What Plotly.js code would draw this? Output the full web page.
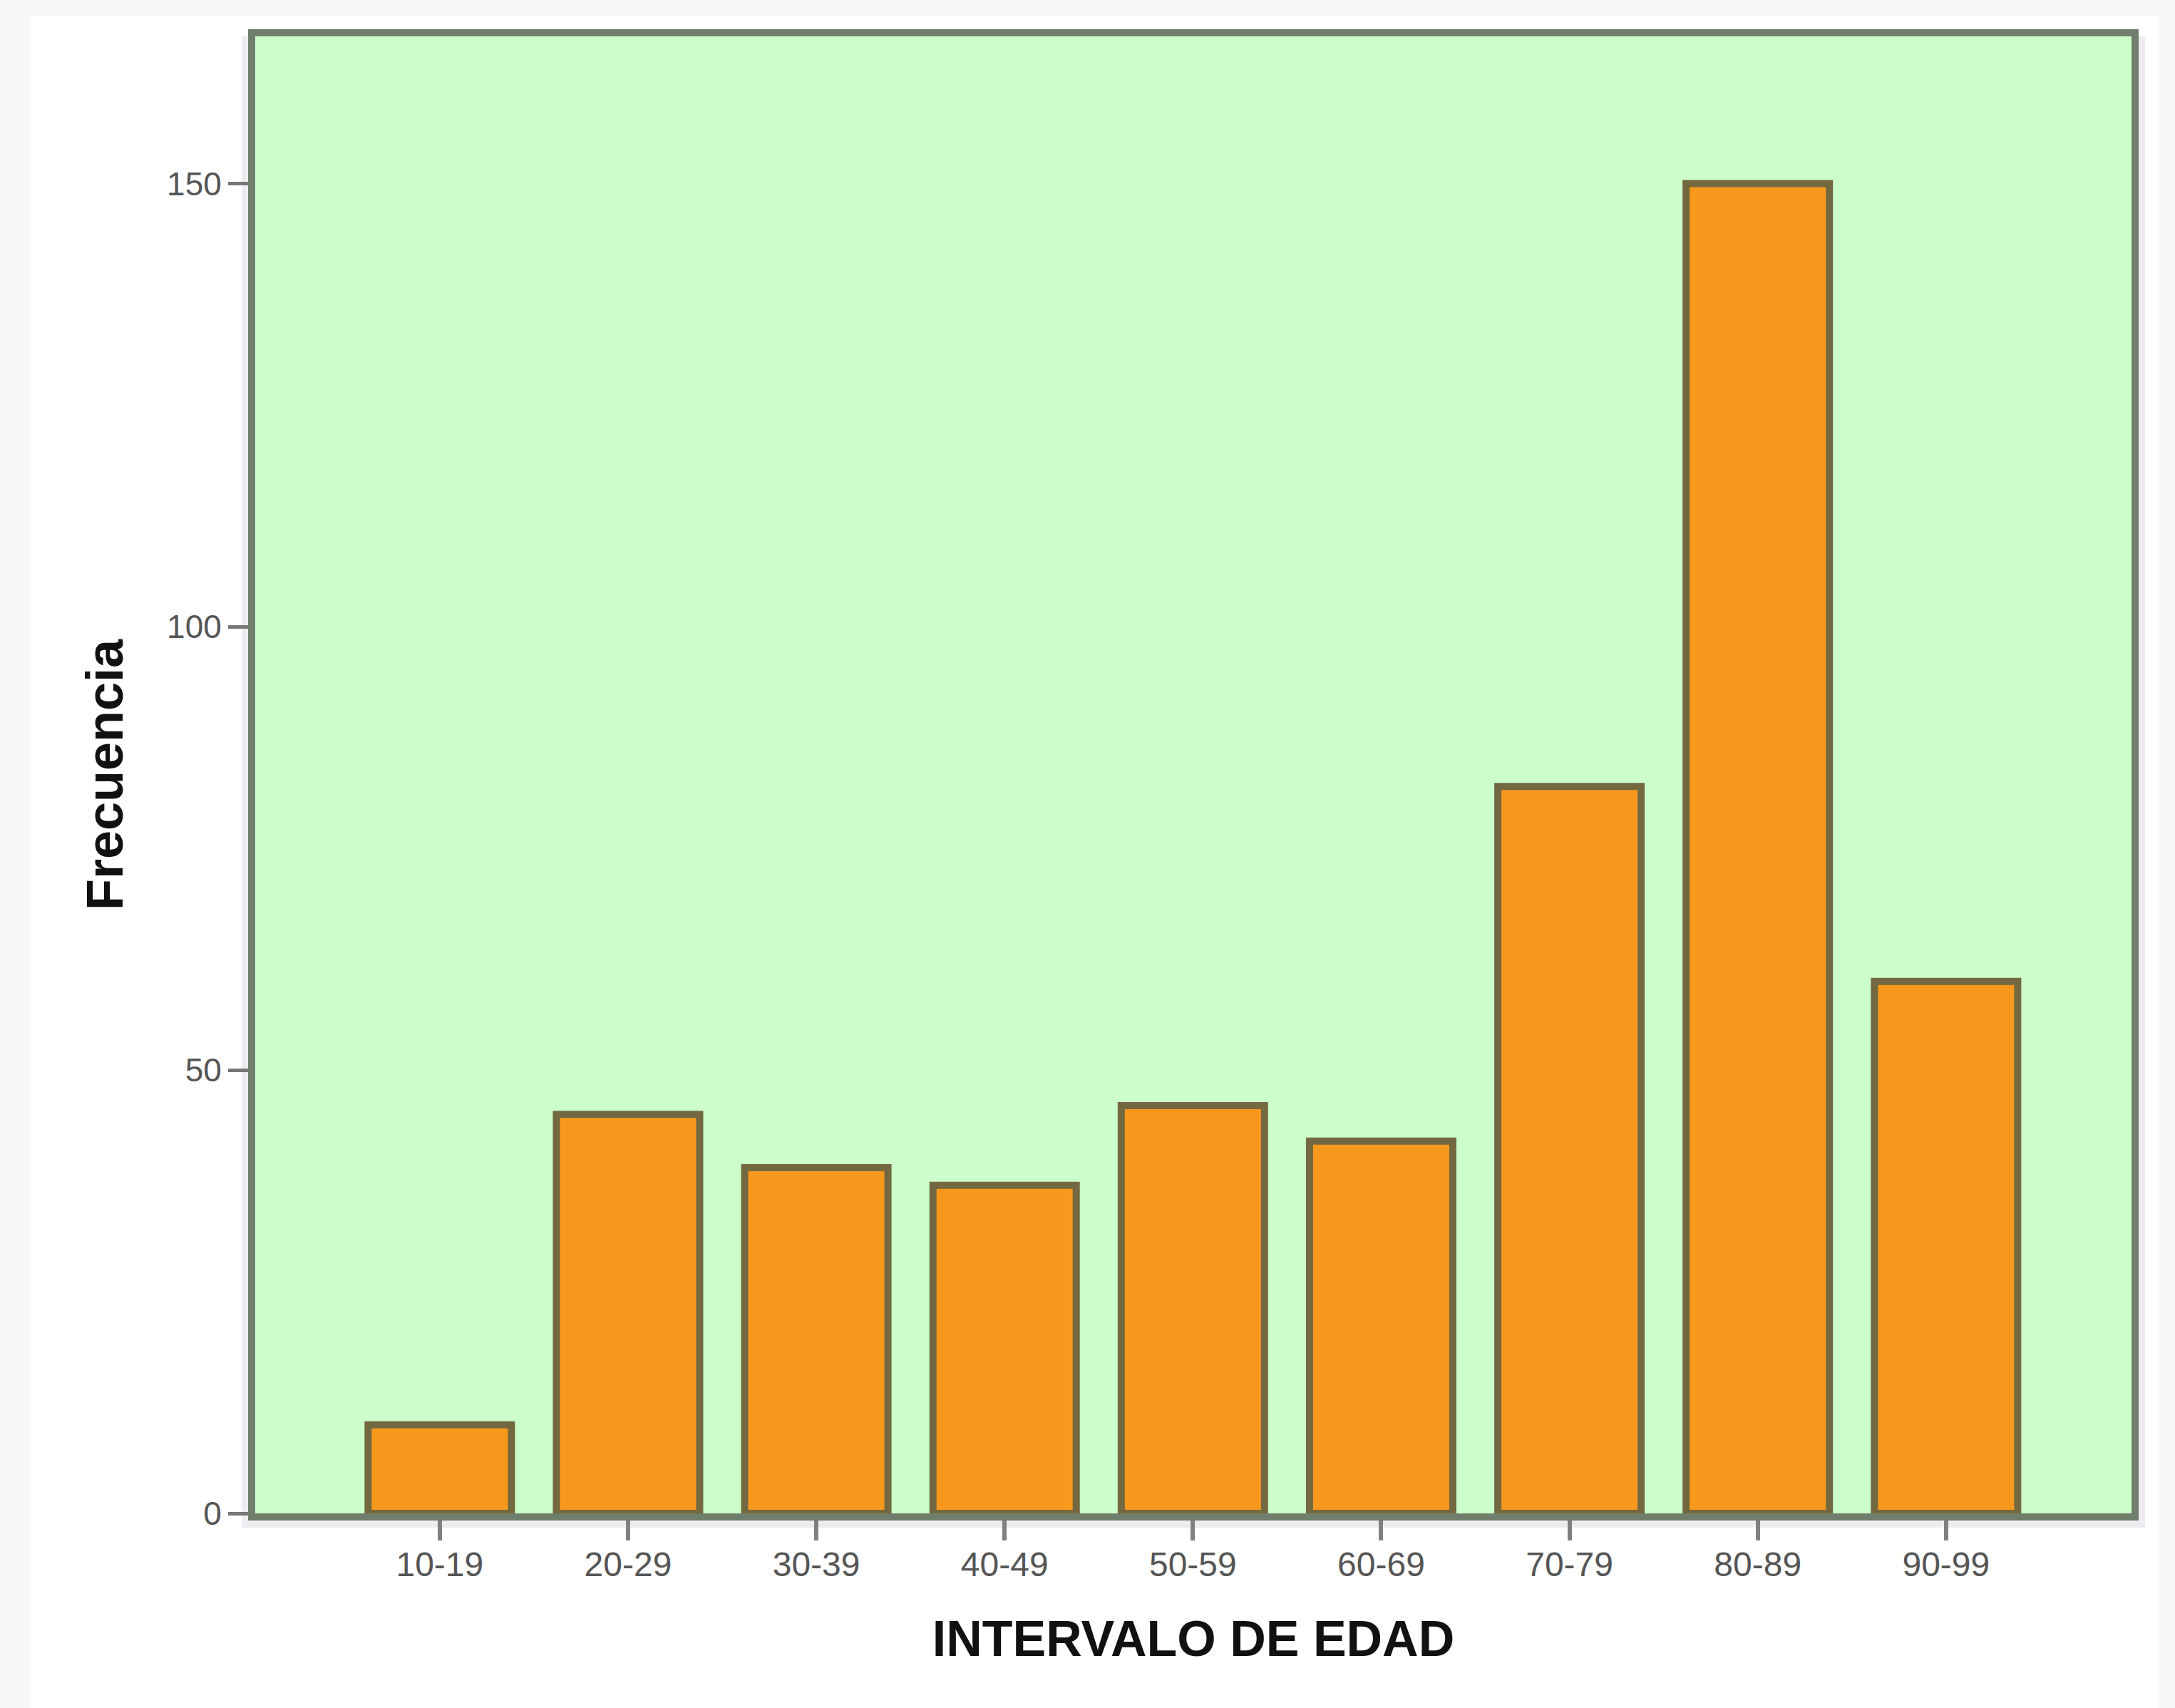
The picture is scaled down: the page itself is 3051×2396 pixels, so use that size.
<!DOCTYPE html>
<html>
<head>
<meta charset="utf-8">
<script src="https://cdn.plot.ly/plotly-3.0.1.min.js"></script>
<style>html,body{margin:0;padding:0;background:#f7f7f7;}</style>
</head>
<body>
<div id="chart" style="width:3051px;height:2396px;"></div>
<script>
const categories = ["10-19","20-29","30-39","40-49","50-59","60-69","70-79","80-89","90-99"];
const frequencies = [10, 45, 39, 37, 46, 42, 82, 150, 60];
const yTickValues = [0, 50, 100, 150];
const xTitle = "INTERVALO DE EDAD";
const yTitle = "Frecuencia";

const W = 3051, H = 2396;
const plotL = 358, plotR = 2990, plotT = 51, plotB = 2123;
const pw = plotR - plotL, ph = plotB - plotT;
const px = v => (v - plotL) / pw;
const py = v => (plotB - v) / ph;

const trace = {
  type: 'bar',
  x: categories,
  y: frequencies,
  marker: { color: '#f8991e', line: { color: '#73683f', width: 10 } },
  hoverinfo: 'x+y'
};

const layout = {
  width: W, height: H,
  margin: { l: plotL, r: W - plotR, t: plotT, b: H - plotB, pad: 0 },
  paper_bgcolor: '#f7f7f7',
  plot_bgcolor: 'rgba(0,0,0,0)',
  showlegend: false,
  bargap: 0.239,
  font: { family: 'Liberation Sans, Arial, sans-serif', color: '#555555' },
  xaxis: {
    type: 'category',
    range: [-0.98, 8.985],
    showline: true, mirror: true, linecolor: '#6f7f6c', linewidth: 10,
    ticks: 'outside', ticklen: 28, tickwidth: 6, tickcolor: '#808080',
    ticklabelstandoff: -8,
    tickfont: { size: 48, color: '#555555' },
    showgrid: false, zeroline: false,
    title: { text: xTitle, font: { size: 70, color: '#111111', family: 'Liberation Sans, Arial, sans-serif', weight: 'bold' }, standoff: 58 }
  },
  yaxis: {
    range: [0, 166.6],
    tickvals: yTickValues,
    ticktext: yTickValues.map(String),
    showline: true, mirror: true, linecolor: '#6f7f6c', linewidth: 10,
    ticks: 'outside', ticklen: 28, tickwidth: 5, tickcolor: '#777777',
    tickfont: { size: 46, color: '#555555' },
    showgrid: false, zeroline: false,
    title: { text: yTitle, font: { size: 72, color: '#111111', family: 'Liberation Sans, Arial, sans-serif', weight: 'bold' }, standoff: 42 }
  },
  shapes: [
    { type: 'rect', xref: 'paper', yref: 'paper', layer: 'below',
      x0: px(42), x1: px(3028), y0: py(2396), y1: py(22),
      fillcolor: '#ffffff', line: { width: 0 } },
    { type: 'rect', xref: 'paper', yref: 'paper', layer: 'below',
      x0: px(339), x1: px(3009), y0: py(2143), y1: py(51),
      fillcolor: '#efecf1', line: { width: 0 } },
    { type: 'rect', xref: 'paper', yref: 'paper', layer: 'below',
      x0: 0, x1: 1, y0: 0, y1: 1,
      fillcolor: '#ccfecb', line: { width: 0 } }
  ]
};

Plotly.newPlot('chart', [trace], layout, { displayModeBar: false, staticPlot: true });
</script>
</body>
</html>
